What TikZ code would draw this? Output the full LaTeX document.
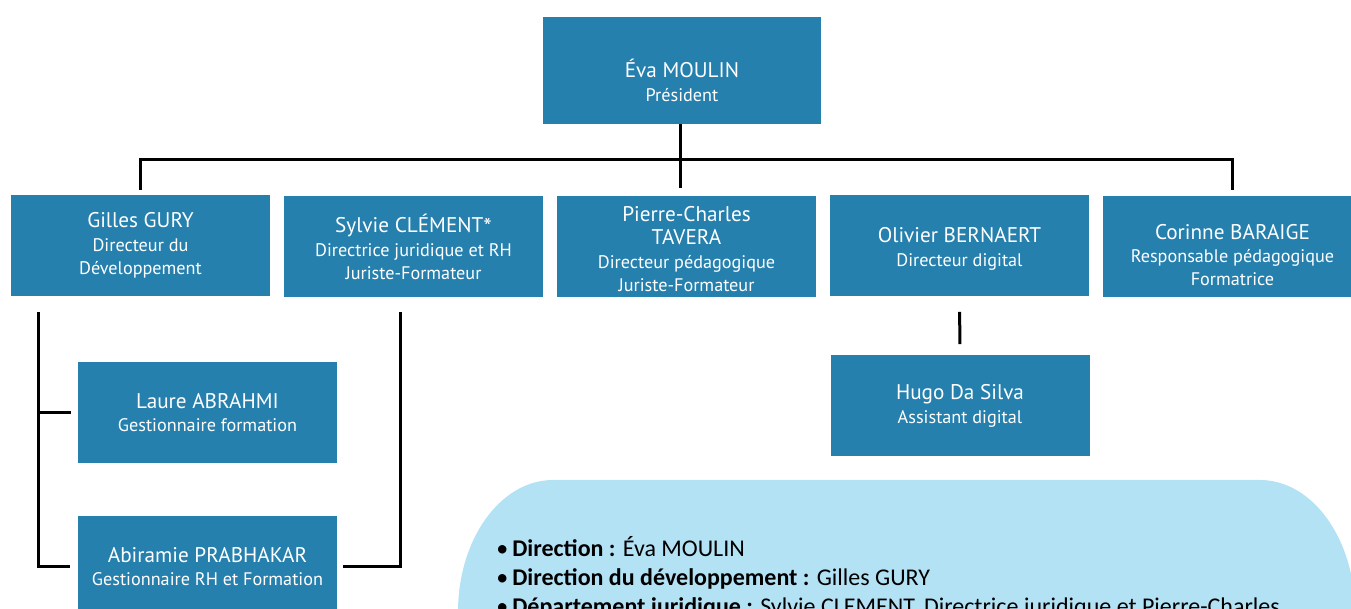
\documentclass[tikz,border=0pt]{standalone}
\usepackage{fontspec}
\setmainfont{PT Sans}
\newfontfamily\listfont{Carlito}
\definecolor{boxblue}{HTML}{2580AE}
\definecolor{panelblue}{HTML}{B3E2F5}
\newcommand{\namesize}{\fontsize{10.6}{11.7}\selectfont}
\newcommand{\rolesize}{\fontsize{9.1}{11.7}\selectfont}
\tikzset{
  box/.style = {fill = boxblue, text = white, align = center, inner sep = 0pt,
                minimum width = 129.5pt, minimum height = 50.5pt, font = \namesize},
  boxtext/.style = {text = white, align = center, font = \namesize},
  link/.style = {line width = 1.5pt, black},
  listline/.style = {anchor = base west, inner sep = 0pt, font = \listfont\fontsize{12}{14.5}\selectfont}
}
\begin{document}
\begin{tikzpicture}[x = 0.5pt, y = -0.5pt]
  \useasboundingbox (0,0) rectangle (1351,609);
  % panel behind the list
  \fill[panelblue] (458,700) -- (458,612)
      arc[start angle = 180, end angle = 90, x radius = 47.5pt, y radius = 66pt]
      -- (1260,480)
      arc[start angle = 90, end angle = 0, x radius = 47.5pt, y radius = 66pt]
      -- (1355,700) -- cycle;
  % boxes
  \node[box, minimum width = 139pt, minimum height = 53.5pt,
        label = {[boxtext, yshift = -5pt]center:{Éva MOULIN\\\rolesize Président}}]
        (eva) at (682,70.5) {};
  \node[box] (gilles) at (140.5,245.5) {Gilles GURY\\\rolesize Directeur du\\\rolesize Développement};
  \node[box] (sylvie) at (413.5,247) {Sylvie CLÉMENT\raisebox{-0.3ex}{\large*}\\\rolesize Directrice juridique et RH\\\rolesize Juriste-Formateur};
  \node[box, label = {[boxtext, yshift = -1.2pt]center:{Pierre-Charles\\TAVERA\\\rolesize Directeur pédagogique\\\rolesize Juriste-Formateur}}]
        (pierre) at (686.5,246.5) {};
  \node[box, label = {[boxtext, yshift = -1.5pt]center:{Olivier BERNAERT\\\rolesize Directeur digital}}]
        (olivier) at (959.5,246) {};
  \node[box, label = {[boxtext, yshift = -4pt]center:{Corinne BARAIGE\\\rolesize Responsable pédagogique\\\rolesize Formatrice}}]
        (corinne) at (1232.5,247) {};
  \node[box] (laure) at (207.5,412.5) {Laure ABRAHMI\\\rolesize Gestionnaire formation};
  \node[box] (abiramie) at (207.5,566.5) {Abiramie PRABHAKAR\\\rolesize Gestionnaire RH et Formation};
  \node[box] (hugo) at (960,406) {Hugo Da Silva\\\rolesize Assistant digital};
  % connectors
  \coordinate (bar) at (680,160);
  \coordinate (devtop) at (38,312);
  \coordinate (jurtop) at (400,312);
  \draw[link, shorten > = 4pt] (eva.south -| bar) -- (pierre.north -| bar);
  \draw[link, shorten < = 2.5pt, shorten > = 3pt] (gilles.north) |- (bar) -| (corinne.north);
  \draw[link] (devtop) |- ([xshift = -4pt]abiramie.west);
  \draw[link] (devtop |- laure.west) -- ([xshift = -3.5pt]laure.west);
  \draw[link] (jurtop) |- ([xshift = 3pt]abiramie.east);
  \draw[link, shorten < = 7.5pt, shorten > = 5.5pt] (olivier.south) -- (hugo.north);
  % list
  \node[listline] (direction) at (496,556) {\textbullet\,\textbf{Direction :} Éva MOULIN};
  \node[listline] (developpement) at (496,585) {\textbullet\,\textbf{Direction du développement :} Gilles GURY};
  \node[listline] (juridique) at (496,614) {\textbullet\,\textbf{Département juridique :} Sylvie CLEMENT, Directrice juridique et Pierre-Charles};
\end{tikzpicture}
\end{document}
